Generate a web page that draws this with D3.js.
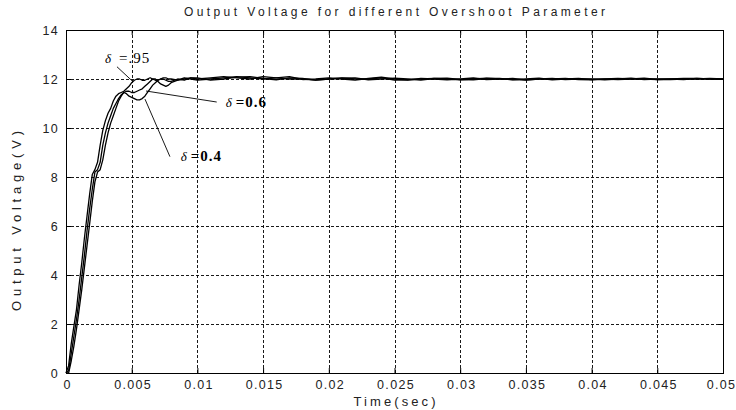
<!DOCTYPE html>
<html>
<head>
<meta charset="utf-8">
<script src="https://cdn.jsdelivr.net/npm/d3@7"></script>
<style>
  html, body { margin: 0; padding: 0; background: #fff; }
  svg { display: block; }
</style>
</head>
<body>
<svg id="chart" width="736" height="410"></svg>
<script>
// ---------------- data ----------------
const titleText = "Output Voltage for different Overshoot Parameter";
const xLabelText = "Time(sec)";
const yLabelText = "Output Voltage(V)";

const xTicks = [0, 0.005, 0.01, 0.015, 0.02, 0.025, 0.03, 0.035, 0.04, 0.045, 0.05];
const xTickLabels = ["0", "0.005", "0.01", "0.015", "0.02", "0.025", "0.03", "0.035", "0.04", "0.045", "0.05"];
const yTicks = [0, 2, 4, 6, 8, 10, 12, 14];
const yTickLabels = ["0", "2", "4", "6", "8", "10", "12", "14"];

// time samples (s)
const time = [
  0, 0.0002, 0.0004, 0.0006, 0.0008, 0.001, 0.0012, 0.0014, 0.0016, 0.0018,
  0.002, 0.0022, 0.0024, 0.0026, 0.0028, 0.003, 0.0032, 0.0034, 0.0036, 0.0038,
  0.004, 0.0042, 0.0044, 0.0046, 0.0048, 0.005, 0.0052, 0.0054, 0.0056, 0.0058,
  0.006, 0.0062, 0.0064, 0.0066, 0.0068, 0.007, 0.0072, 0.0074, 0.0076, 0.0078,
  0.008, 0.0085, 0.009, 0.0095, 0.01,
  0.011, 0.012, 0.013, 0.014, 0.015, 0.016, 0.017, 0.018, 0.019, 0.02,
  0.021, 0.022, 0.023, 0.024, 0.025, 0.026, 0.027, 0.028, 0.029, 0.03,
  0.031, 0.032, 0.033, 0.034, 0.035, 0.036, 0.037, 0.038, 0.039, 0.04,
  0.041, 0.042, 0.043, 0.044, 0.045, 0.046, 0.047, 0.048, 0.049, 0.05
];

// output voltage for delta = 0.95
const v095 = [
  0, 0.3, 1.2, 1.9, 2.6, 3.6, 4.5, 5.5, 6.4, 7.3,
  8.1, 8.3, 8.6, 9.3, 9.9, 10.3, 10.6, 10.8, 11.1, 11.3,
  11.4, 11.45, 11.5, 11.6, 11.7, 11.85, 11.95, 12.0, 12.0, 11.95,
  11.95, 12.0, 12.05, 12.0, 11.95, 11.95, 12.0, 12.05, 12.05, 12.0,
  12.0, 11.95, 12.0, 12.05, 12.0,
  12.05, 12.1, 12.05, 12.0, 12.1, 12.05, 12.0, 12.0, 11.95, 12.0,
  12.05, 12.0, 12.0, 12.05, 11.95, 11.97, 12.0, 12.02, 12.0, 11.97,
  12.0, 12.03, 12.0, 11.98, 11.97, 12.0, 12.0, 12.02, 11.98, 11.97,
  12.0, 12.02, 12.0, 12.0, 11.98, 12.0, 12.02, 12.02, 12.0, 12.0
];

// output voltage for delta = 0.6
const v060 = [
  0, 0.1, 0.8, 1.5, 2.2, 3.0, 3.9, 4.8, 5.8, 6.7,
  7.5, 8.2, 8.3, 8.6, 9.3, 9.8, 10.2, 10.5, 10.8, 11.0,
  11.2, 11.35, 11.45, 11.5, 11.5, 11.45, 11.45, 11.5, 11.55, 11.6,
  11.7, 11.8, 11.9, 12.0, 12.0, 11.9, 11.8, 11.75, 11.7, 11.75,
  11.85, 11.95, 12.05, 12.0, 11.95,
  12.0, 12.05, 12.1, 12.05, 12.0, 12.05, 12.1, 11.98, 12.0, 12.05,
  12.0, 11.95, 12.02, 12.08, 12.0, 11.95, 12.02, 12.0, 11.97, 12.0,
  12.04, 11.98, 12.0, 12.02, 11.96, 12.0, 12.02, 11.98, 12.0, 12.0,
  11.97, 12.0, 12.03, 11.98, 12.0, 12.0, 11.98, 12.02, 12.0, 11.99
];

// output voltage for delta = 0.4
const v040 = [
  0, 0.0, 0.5, 1.1, 1.8, 2.6, 3.4, 4.3, 5.2, 6.1,
  7.0, 7.8, 8.2, 8.3, 8.7, 9.3, 9.8, 10.2, 10.5, 10.8,
  11.1, 11.3, 11.45, 11.4, 11.3, 11.25, 11.2, 11.15, 11.15, 11.2,
  11.3, 11.45, 11.6, 11.75, 11.85, 11.95, 12.0, 12.0, 11.95, 11.9,
  11.9, 12.0, 11.95, 12.05, 12.05,
  11.95, 12.0, 12.08, 12.1, 12.02, 11.97, 12.05, 12.02, 11.95, 12.0,
  12.03, 12.05, 11.97, 12.0, 12.03, 12.0, 11.96, 12.02, 12.03, 11.98,
  11.97, 12.02, 12.02, 11.97, 12.0, 12.03, 11.97, 12.0, 12.02, 11.98,
  12.0, 11.98, 12.0, 12.03, 11.98, 11.98, 12.0, 12.0, 12.02, 12.0
];

const seriesValues = [v095, v060, v040];

// annotation labels (data coordinates): text, label anchor, leader line from -> to
const annLabels = ["=.95", "=0.6", "=0.4"];
const annLabelT = [0.00297, 0.01215, 0.00873];
const annLabelV = [12.65, 10.86, 8.65];
const annFromT = [0.00388, 0.01147, 0.00791];
const annFromV = [12.5, 11.06, 8.83];
const annToT = [0.0051, 0.00609, 0.00601];
const annToV = [11.89, 11.51, 11.18];
const annBold = [false, true, true];

// ---------------- layout ----------------
const W = 736, H = 410;
const plot = { left: 66, right: 723, top: 30, bottom: 373 };

const svg = d3.select("#chart");
const x = d3.scaleLinear().domain([0, 0.05]).range([plot.left, plot.right]);
const y = d3.scaleLinear().domain([0, 14]).range([plot.bottom, plot.top]);

const sansFont = "'Liberation Sans', Arial, sans-serif";
const serifFont = "'Liberation Serif', 'Times New Roman', serif";

// background
svg.append("rect").attr("width", W).attr("height", H).attr("fill", "#fff");

// grid
const grid = svg.append("g").attr("stroke", "#000").attr("stroke-width", 0.9)
  .attr("stroke-dasharray", "3,2").attr("fill", "none");
grid.selectAll("line.gx").data(xTicks.slice(1, -1)).enter().append("line")
  .attr("x1", d => Math.round(x(d)) + 0.5).attr("x2", d => Math.round(x(d)) + 0.5)
  .attr("y1", plot.top).attr("y2", plot.bottom);
grid.selectAll("line.gy").data(yTicks.slice(1, -1)).enter().append("line")
  .attr("y1", d => Math.round(y(d)) + 0.5).attr("y2", d => Math.round(y(d)) + 0.5)
  .attr("x1", plot.left).attr("x2", plot.right);

// curves
const line = d3.line()
  .x((d, i) => x(time[i]))
  .y(d => y(d));
svg.append("g").selectAll("path").data(seriesValues).enter().append("path")
  .attr("d", d => line(d))
  .attr("fill", "none")
  .attr("stroke", "#000")
  .attr("stroke-width", 1.3)
  .attr("stroke-linejoin", "round");

// axes (ticks inside)
const tickStyle = g => {
  g.selectAll("text").attr("font-family", sansFont).attr("font-size", 12.5)
    .attr("fill", "#222").attr("letter-spacing", "1.3px");
  g.select(".domain").remove();
  g.selectAll(".tick line").attr("stroke", "#000");
};
svg.append("g").attr("transform", `translate(0,${plot.bottom})`)
  .call(d3.axisBottom(x).tickValues(xTicks).tickFormat((d, i) => xTickLabels[i])
    .tickSizeInner(-5).tickSizeOuter(0).tickPadding(7))
  .call(tickStyle)
  .call(g => g.selectAll("text").attr("dx", (d, i) => i === xTicks.length - 1 ? "-2px" : "1px"));
svg.append("g").attr("transform", `translate(${plot.left},0)`)
  .call(d3.axisLeft(y).tickValues(yTicks).tickFormat((d, i) => yTickLabels[i])
    .tickSizeInner(-5).tickSizeOuter(0).tickPadding(7))
  .call(tickStyle);
svg.append("g").attr("transform", `translate(0,${plot.top})`)
  .call(d3.axisTop(x).tickValues(xTicks).tickFormat("").tickSizeInner(-5).tickSizeOuter(0))
  .call(tickStyle);
svg.append("g").attr("transform", `translate(${plot.right},0)`)
  .call(d3.axisRight(y).tickValues(yTicks).tickFormat("").tickSizeInner(-5).tickSizeOuter(0))
  .call(tickStyle);

// frame
svg.append("rect")
  .attr("x", plot.left + 0.5).attr("y", plot.top + 0.5)
  .attr("width", plot.right - plot.left).attr("height", plot.bottom - plot.top)
  .attr("fill", "none").attr("stroke", "#000").attr("stroke-width", 1);

// title & axis labels
const cx = (plot.left + plot.right) / 2;
svg.append("text").text(titleText)
  .attr("x", cx).attr("y", 16).attr("text-anchor", "middle")
  .attr("font-family", sansFont).attr("font-size", 12).attr("fill", "#222")
  .attr("textLength", 421).attr("lengthAdjust", "spacing");
svg.append("text").text(xLabelText)
  .attr("x", cx).attr("y", 406).attr("text-anchor", "middle")
  .attr("font-family", sansFont).attr("font-size", 13).attr("fill", "#222")
  .attr("textLength", 82).attr("lengthAdjust", "spacing");
svg.append("text").text(yLabelText)
  .attr("transform", "translate(21,221) rotate(-90)")
  .attr("text-anchor", "middle")
  .attr("font-family", sansFont).attr("font-size", 13).attr("fill", "#222")
  .attr("textLength", 180).attr("lengthAdjust", "spacing");

// annotations
const ann = svg.append("g");
annLabels.forEach((lab, i) => {
  ann.append("line")
    .attr("x1", x(annFromT[i])).attr("y1", y(annFromV[i]))
    .attr("x2", x(annToT[i])).attr("y2", y(annToV[i]))
    .attr("stroke", "#000").attr("stroke-width", 0.9);
  const t = ann.append("text")
    .attr("x", x(annLabelT[i])).attr("y", y(annLabelV[i]))
    .attr("font-family", serifFont).attr("fill", "#000");
  t.append("tspan").text("δ").attr("font-style", "italic").attr("font-size", 13);
  t.append("tspan").text(lab).attr("dx", i === 0 ? 8 : 4)
    .attr("font-size", 15).attr("letter-spacing", "1px")
    .attr("font-weight", annBold[i] ? "bold" : "normal");
});
</script>
</body>
</html>
